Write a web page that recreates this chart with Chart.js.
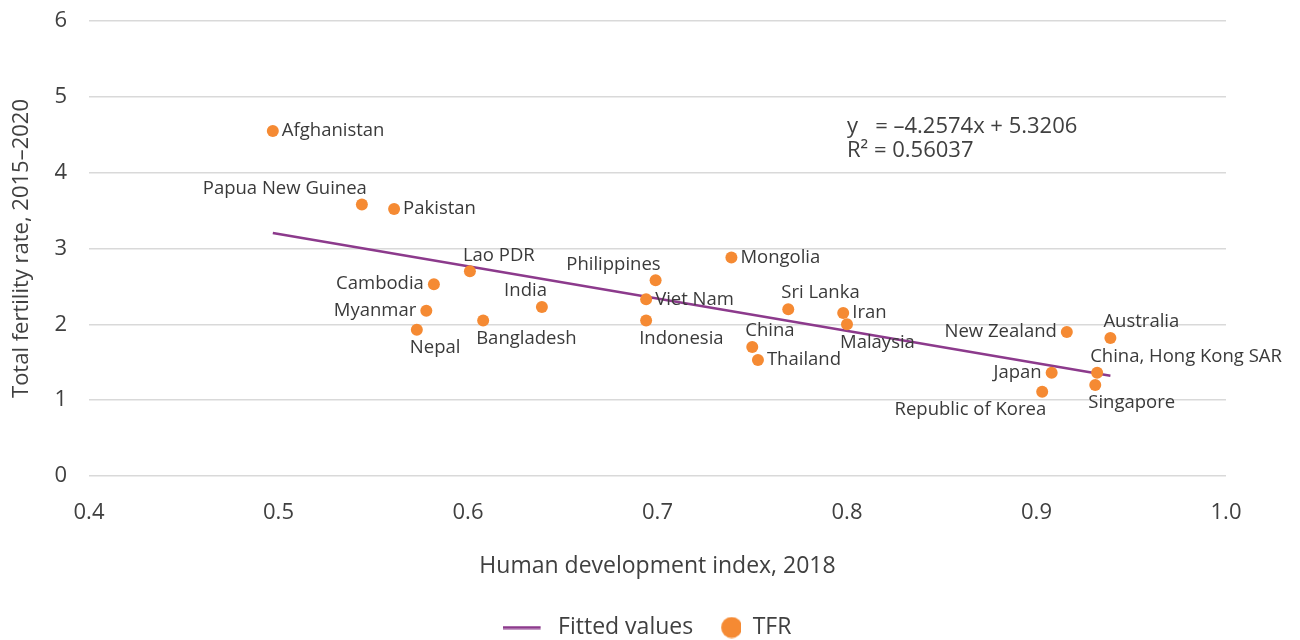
<!DOCTYPE html>
<html><head><meta charset="utf-8">
<script src="https://cdn.jsdelivr.net/npm/chart.js@4/dist/chart.umd.min.js"></script>
<style>html,body{margin:0;padding:0;background:#fff}#wrap{width:1300px;height:640px;position:relative}</style>
</head><body><div id="wrap"><canvas id="c" width="1300" height="640"></canvas></div>
<script>
// ---- data ----
const countries = ["Afghanistan","Papua New Guinea","Pakistan","Lao PDR","Cambodia","Myanmar","Nepal","Bangladesh","India","Philippines","Viet Nam","Indonesia","Mongolia","China","Thailand","Sri Lanka","Iran","Malaysia","New Zealand","Australia","Japan","Republic of Korea","China, Hong Kong SAR","Singapore"];
const hdi = [0.497,0.544,0.561,0.601,0.582,0.578,0.573,0.608,0.639,0.699,0.694,0.694,0.739,0.750,0.753,0.769,0.798,0.800,0.916,0.939,0.908,0.903,0.932,0.931];
const tfr = [4.55,3.58,3.52,2.70,2.53,2.18,1.93,2.05,2.23,2.58,2.33,2.05,2.88,1.70,1.53,2.20,2.15,2.00,1.90,1.82,1.36,1.11,1.36,1.20];
const fittedX = [0.497, 0.939];
const fittedY = [3.205, 1.323];
const xTicks = [0.4,0.5,0.6,0.7,0.8,0.9,1.0];
const xTickLabels = ["0.4","0.5","0.6","0.7","0.8","0.9","1.0"];
const yTicks = [0,1,2,3,4,5,6];
const yTickLabels = ["0","1","2","3","4","5","6"];
const equationLines = ["y   = \u20134.2574x + 5.3206", "R\u00B2 = 0.56037"];
const seriesNames = ["Fitted values", "TFR"];
// label placement: r=right, l=left, ar=above(left-aligned), al=above(right-aligned), br=below(left-aligned), bl=below(right-aligned)
const labelPlacement = ["r","al","r","ar","l","l","br","br","al","al","r","br","r","ar","r","ar","r","br","l","ar","l","bl","ar","br"];

// ---- styles ----
const ORANGE = "#F58A33";
const PURPLE = "#8C3A8C";
const TEXT = "#404040";
const FONT = '"Open Sans", "Noto Sans", sans-serif';

const lineImg = document.createElement('canvas');
lineImg.width = 44; lineImg.height = 4;
(function(){const g=lineImg.getContext('2d');g.fillStyle=PURPLE;g.fillRect(0,0.5,38,3);})();
const dotImg = document.createElement('canvas');
dotImg.width = 44; dotImg.height = 22;
(function(){const g=dotImg.getContext('2d');g.fillStyle=ORANGE;g.beginPath();g.arc(34.5,11,10.5,0,Math.PI*2);g.fill();})();

const labelPlugin = {
  id: 'pointLabels',
  afterDatasetsDraw(chart) {
    const meta = chart.getDatasetMeta(1);
    const ctx = chart.ctx;
    ctx.save();
    ctx.font = '18.5px ' + FONT;
    ctx.fillStyle = '#3a3a3a';
    ctx.textBaseline = 'middle';
    meta.data.forEach((pt, i) => {
      const p = labelPlacement[i];
      let x = pt.x, y = pt.y;
      if (p === 'r') { ctx.textAlign = 'left'; x += 9; }
      else if (p === 'l') { ctx.textAlign = 'right'; x -= 10; }
      else if (p === 'ar') { ctx.textAlign = 'left'; x -= 7; y -= 16; }
      else if (p === 'al') { ctx.textAlign = 'right'; x += 5; y -= 16; }
      else if (p === 'br') { ctx.textAlign = 'left'; x -= 7; y += 18; }
      else if (p === 'bl') { ctx.textAlign = 'right'; x += 4; y += 18; }
      ctx.fillText(countries[i], x, y);
    });
    // regression equation
    const xs = chart.scales.x, ys = chart.scales.y;
    ctx.font = '22px ' + FONT;
    ctx.fillStyle = TEXT;
    ctx.textAlign = 'left';
    const ex = xs.getPixelForValue(0.8), ey = ys.getPixelForValue(4.6);
    equationLines.forEach((t, k) => ctx.fillText(t, ex, ey + k * 24));
    ctx.restore();
  },
  afterLayout(chart) {
    const L = chart.legend;
    if (L) { L.top += 9; L.bottom += 9; L.left += 34; L.right += 34; }
  }
};

new Chart(document.getElementById('c'), {
  type: 'scatter',
  data: {
    datasets: [
      {
        label: seriesNames[0],
        data: fittedX.map((x, i) => ({x, y: fittedY[i]})),
        showLine: true,
        borderColor: PURPLE,
        borderWidth: 2.5,
        pointRadius: 0,
        order: 1
      },
      {
        label: seriesNames[1],
        data: hdi.map((x, i) => ({x, y: tfr[i]})),
        backgroundColor: ORANGE,
        borderWidth: 0,
        pointRadius: 6,
        order: 0
      }
    ]
  },
  options: {
    responsive: false,
    animation: false,
    layout: { padding: { left: 0, right: 74, top: 21, bottom: 0 } },
    plugins: {
      tooltip: { enabled: false },
      legend: {
        position: 'bottom',
        labels: {
          usePointStyle: true,
          pointStyleWidth: 44,
          boxHeight: 22,
          padding: 4,
          color: TEXT,
          font: { family: FONT, size: 23 },
          generateLabels: () => [
            { text: seriesNames[0], pointStyle: lineImg, fillStyle: PURPLE, strokeStyle: PURPLE, lineWidth: 0, datasetIndex: 0, fontColor: TEXT },
            { text: seriesNames[1], pointStyle: dotImg, fillStyle: ORANGE, strokeStyle: ORANGE, lineWidth: 0, datasetIndex: 1, fontColor: TEXT }
          ]
        }
      }
    },
    scales: {
      x: {
        type: 'linear', min: 0.4, max: 1.0,
        afterBuildTicks: s => { s.ticks = xTicks.map(v => ({value: v})); },
        afterFit: s => { s.height = 127; },
        grid: { display: false, drawTicks: false },
        border: { display: false },
        ticks: { padding: 24, color: TEXT, font: { family: FONT, size: 22 }, callback: (v, i) => xTickLabels[i] },
        title: { display: true, text: 'Human development index, 2018', color: TEXT, font: { family: FONT, size: 23 }, padding: { top: 0, bottom: 23 } }
      },
      y: {
        type: 'linear', min: 0, max: 6,
        afterBuildTicks: s => { s.ticks = yTicks.map(v => ({value: v})); },
        afterFit: s => { s.width = 89; s.paddingTop = 0; s.paddingBottom = 0; },
        grid: { color: '#d9d9d9', lineWidth: 1.5, drawTicks: false },
        border: { display: false },
        ticks: { padding: 22, color: TEXT, font: { family: FONT, size: 22 }, callback: (v, i) => yTickLabels[i] },
        title: { display: true, text: 'Total fertility rate, 2015\u20132020', color: TEXT, font: { family: FONT, size: 22 }, padding: { top: 9, bottom: 0 } }
      }
    }
  },
  plugins: [labelPlugin]
});
</script>
</body></html>
